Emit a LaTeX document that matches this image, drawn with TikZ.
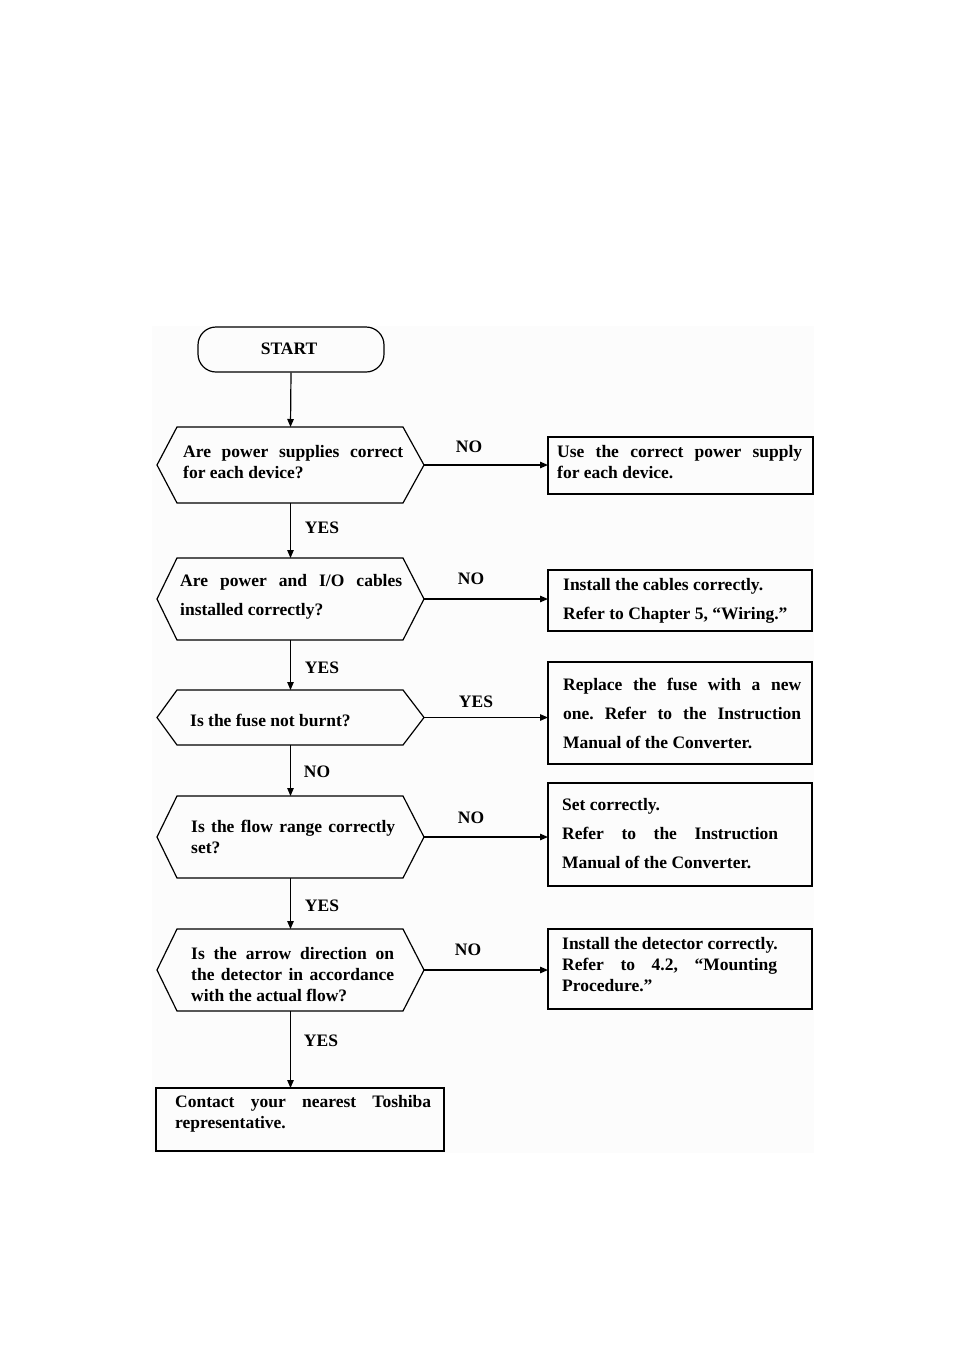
\documentclass[tikz,border=0pt]{standalone}
\usepackage{fontspec}
\setmainfont{Liberation Serif}
\usetikzlibrary{arrows.meta}
\frenchspacing
\newcommand{\hexframe}[1]{\draw[shapeline] (#1.west) -- ([xshift=20pt]#1.north west) -- ([xshift=-21pt]#1.north east) -- (#1.east) -- ([xshift=-21pt]#1.south east) -- ([xshift=20pt]#1.south west) -- cycle;}
\newcommand{\jl}[2]{\makebox[#1][s]{#2}}
\begin{document}
\begin{tikzpicture}[x=1pt,y=-1pt,
  shapeline/.style={line width=1.2pt},
  txt/.style={font=\fontsize{17.5}{21}\selectfont\bfseries, align=left, inner sep=0pt, anchor=west},
  lbl/.style={font=\fontsize{17.5}{21}\selectfont\bfseries, inner sep=0pt},
  hexnode/.style={minimum width=267pt, inner sep=0pt, outer sep=0pt},
  actbox/.style={draw, line width=1.2pt, inner sep=0pt, outer sep=0pt},
  conn/.style={line width=1.2pt, -{Triangle[length=8pt,width=6.5pt]}}]
\useasboundingbox (0,0) rectangle (954,1350);
\fill[gray!2] (152,326) rectangle (814,1153);

% START
\node[draw, line width=1.2pt, rounded corners=18pt, minimum width=186pt, minimum height=45pt, inner sep=0pt] (start) at (291,349.5) {};
\node[lbl] (starttxt) at (289,349) {START};

% decisions (shape containers)
\node[hexnode, minimum height=76pt] (d1) at (290.5,465) {};
\node[hexnode, minimum height=82pt] (d2) at (290.5,599) {};
\node[hexnode, minimum height=55pt] (d3) at (290.5,717.5) {};
\node[hexnode, minimum height=82pt] (d4) at (290.5,837) {};
\node[hexnode, minimum height=82pt] (d5) at (290.5,970) {};
\hexframe{d1}\hexframe{d2}\hexframe{d3}\hexframe{d4}\hexframe{d5}

% action boxes
\node[actbox, minimum width=265pt, minimum height=57pt] (b1) at (680.5,465.5) {};
\node[actbox, minimum width=264pt, minimum height=61pt] (b2) at (680,600.5) {};
\node[actbox, minimum width=264pt, minimum height=102pt] (b3) at (680,713) {};
\node[actbox, minimum width=264pt, minimum height=103pt] (b4) at (680,834.5) {};
\node[actbox, minimum width=264pt, minimum height=80pt] (b5) at (680,969) {};
\node[actbox, minimum width=288pt, minimum height=63pt] (b6) at (300,1119.5) {};

% texts
\node[txt] (t1) at (183,462.5) {\jl{220pt}{Are power supplies correct}\\for each device?};
\node[txt] (u1) at (557,462.5) {\jl{245pt}{Use the correct power supply}\\for each device.};
\node[txt] (t2) at (180,596.5) {\jl{222pt}{Are power and I/O cables}\\[8pt]installed correctly?};
\node[txt] (u2) at (563,600.5) {Install the cables correctly.\\[8pt]Refer to Chapter 5, “Wiring.”};
\node[txt] (t3) at (190,720) {Is the fuse not burnt?};
\node[txt] (u3) at (563,713) {\jl{238pt}{Replace the fuse with a new}\\[8pt]\jl{238pt}{one. Refer to the Instruction}\\[8pt]Manual of the Converter.};
\node[txt] (t4) at (191,837) {\jl{204pt}{Is the flow range correctly}\\set?};
\node[txt] (u4) at (562,834) {Set correctly.\\[8pt]\jl{216pt}{Refer to the Instruction}\\[8pt]Manual of the Converter.};
\node[txt] (t5) at (191,975) {\jl{203pt}{Is the arrow direction on}\\\jl{203pt}{the detector in accordance}\\with the actual flow?};
\node[txt] (u5) at (562,965) {Install the detector correctly.\\\jl{215pt}{Refer to 4.2, “Mounting}\\Procedure.”};
\node[txt] (t6) at (175,1113.5) {\jl{256pt}{Contact your nearest Toshiba}\\representative.};

% connectors
\draw[conn] (start.south) -- (d1.north);
\draw[conn] (d1.south) -- (d2.north);
\draw[conn] (d2.south) -- (d3.north);
\draw[conn] (d3.south) -- (d4.north);
\draw[conn] (d4.south) -- (d5.north);
\draw[conn] (d5.south) -- (b6.north -| d5.south);
\draw[conn] (d1.east) -- (d1.east -| b1.west);
\draw[conn] (d2.east) -- (d2.east -| b2.west);
\draw[conn] (d3.east) -- (d3.east -| b3.west);
\draw[conn] (d4.east) -- (d4.east -| b4.west);
\draw[conn] (d5.east) -- (d5.east -| b5.west);

% branch labels
\node[lbl] (l1) at (469,447) {NO};
\node[lbl] (l2) at (471,579) {NO};
\node[lbl] (l3) at (476,702) {YES};
\node[lbl] (l4) at (471,818) {NO};
\node[lbl] (l5) at (468,950) {NO};
\node[lbl] (v1) at (322,528) {YES};
\node[lbl] (v2) at (322,668) {YES};
\node[lbl] (v3) at (317,772) {NO};
\node[lbl] (v4) at (322,906) {YES};
\node[lbl] (v5) at (321,1041) {YES};
\end{tikzpicture}
\end{document}
